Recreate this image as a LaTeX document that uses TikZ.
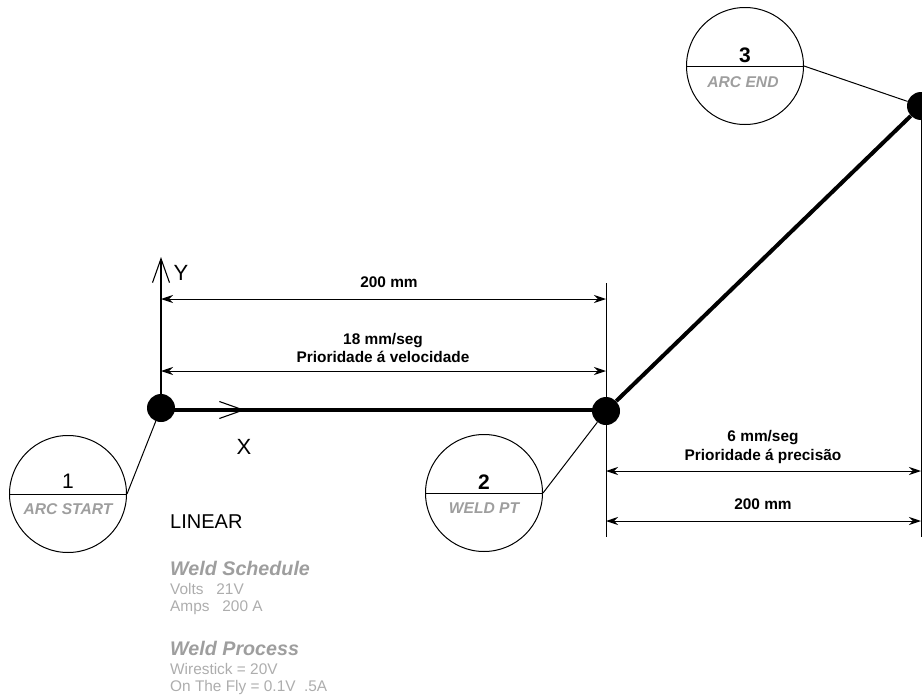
\documentclass[tikz,border=0pt]{standalone}
\usepackage{fontspec}
\setmainfont{Liberation Sans}
\usetikzlibrary{arrows.meta}
\definecolor{tagtext}{gray}{0.62}
\definecolor{infotext}{gray}{0.68}
\tikzset{
  weldpt/.style={circle,fill=black,inner sep=0pt,minimum size=28pt},
  tagcirc/.style={circle,draw,line width=1pt,inner sep=0pt,minimum size=117pt},
  tagnum/.style={font=\fontsize{21}{21}\selectfont},
  tagname/.style={text=tagtext,font=\fontsize{15.6}{15.6}\selectfont\bfseries\itshape},
  dimtxt/.style={align=center,font=\fontsize{15.4}{18.5}\selectfont\bfseries},
  axistxt/.style={font=\fontsize{22}{22}\selectfont},
  infohead/.style={anchor=west,inner sep=0pt,text=tagtext,font=\fontsize{19.7}{20}\selectfont\bfseries\itshape},
  infoline/.style={anchor=west,inner sep=0pt,text=infotext,font=\fontsize{15.4}{15.4}\selectfont},
  dimline/.style={line width=1pt,{Stealth[length=12pt,width=8pt]}-{Stealth[length=12pt,width=8pt]}},
  axisline/.style={line width=1.1pt,-{Straight Barb[length=24pt,width=17pt]}}
}
\begin{document}
\begin{tikzpicture}[x=1pt,y=-1pt]
      \useasboundingbox (0,0) rectangle (922,699);
      \draw
        (161,408) node[weldpt] (p1){}
        (606,411) node[weldpt] (p2){}
        (921,106) node[weldpt] (p3){}
        (68,494) node[tagcirc] (c1){}
        (484,493) node[tagcirc] (c2){}
        (745,66) node[tagcirc] (c3){};
      \draw
        (161,257) coordinate (yend)
        (245,410) coordinate (xend)
        (161,410) coordinate (x0)
        (606,410) coordinate (x1)
        (606,283) coordinate (ltop)
        (606,537) coordinate (lbot)
        (921,537) coordinate (rbot)
        (161,299) coordinate (a1)
        (606,299) coordinate (a2)
        (161,371) coordinate (b1)
        (606,371) coordinate (b2)
        (606,471) coordinate (d1)
        (921,471) coordinate (d2)
        (606,521) coordinate (e1)
        (921,521) coordinate (e2);
      \begin{scope}[-,line width=1pt]
        \draw (c1.west) to (c1.east);
        \draw (c2.west) to (c2.east);
        \draw (c3.west) to (c3.east);
        \draw (c1.east) to (p1);
        \draw (c2.east) to (p2);
        \draw (c3.east) to (p3);
        \draw (ltop) to (lbot);
        \draw (p3) to (rbot);
      \end{scope}
      \draw[axisline] (p1) to (yend);
      \draw[axisline] (x0) to (xend);
      \begin{scope}[-,line width=4pt]
        \draw (x0) to (x1);
        \draw (p2) to (p3);
      \end{scope}
      \begin{scope}[dimline]
        \draw (a1) to (a2);
        \draw (b1) to (b2);
        \draw (d1) to (d2);
        \draw (e1) to (e2);
      \end{scope}
      \draw
        (68,481) node[tagnum] (n1){1}
        (68,509) node[tagname] (t1){ARC START}
        (484,482) node[tagnum,font=\fontsize{21}{21}\selectfont\bfseries] (n2){2}
        (484,508) node[tagname] (t2){WELD PT}
        (745,55) node[tagnum,font=\fontsize{21}{21}\selectfont\bfseries] (n3){3}
        (743,82) node[tagname] (t3){ARC END}
        (181,273) node[axistxt] (ylab){Y}
        (244,447) node[axistxt] (xlab){X}
        (389,282) node[dimtxt] (w1){200 mm}
        (383,348) node[dimtxt] (w2){18 mm/seg\\Prioridade á velocidade}
        (763,447) node[dimtxt] (w3){6 mm/seg\\Prioridade á precisão}
        (763,504) node[dimtxt] (w4){200 mm}
        (170,522) node[anchor=west,inner sep=0pt,font=\fontsize{20}{20}\selectfont] (lin){LINEAR}
        (170,568) node[infohead] (h1){Weld Schedule}
        (170,589) node[infoline] (v1){Volts\ \ \ 21V}
        (170,608) node[infoline] (v2){Amps\ \ \ 200 A}
        (170,648) node[infohead] (h2){Weld Process}
        (170,669) node[infoline] (v3){Wirestick = 20V}
        (170,688) node[infoline] (v4){On The Fly = 0.1V\ \ .5A};
    \end{tikzpicture}
\end{document}
